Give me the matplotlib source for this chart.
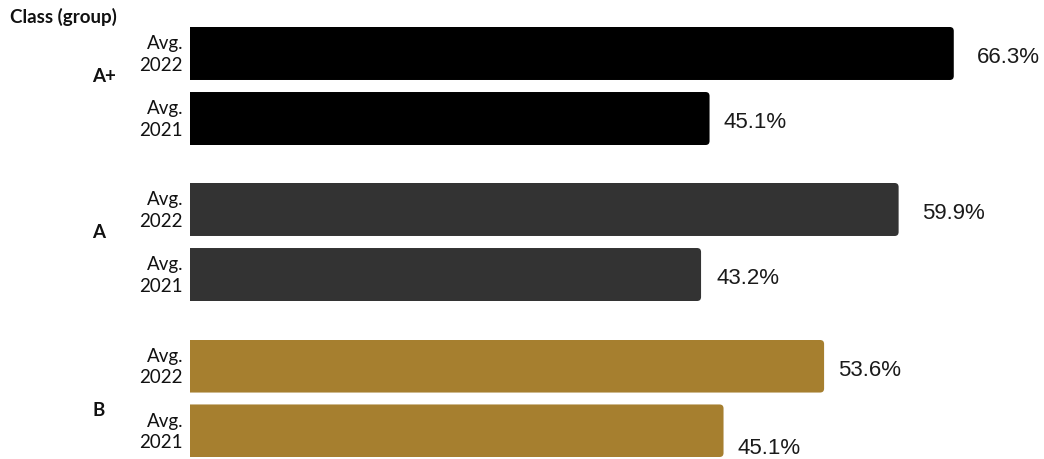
"""Horizontal bar chart: average share by class group, 2022 vs 2021."""

import matplotlib

matplotlib.use("Agg")
import matplotlib.pyplot as plt
from matplotlib.patches import FancyBboxPatch

groups = ["A+", "A", "B"]
years = ["Avg.\n2022", "Avg.\n2021"]
values = {
    "A+": [66.3, 45.1],
    "A": [59.9, 43.2],
    "B": [53.6, 45.1],
}
colors = {"A+": "#000000", "A": "#333333", "B": "#a67f2f"}

W, H, DPI = 1044, 460, 100
LEFT_PX = 190
# (top, bottom) pixel span of each group's pair of bars
GROUP_SPAN = {"A+": (28, 146), "A": (184, 302), "B": (341, 458)}
# horizontal scale (px per percent) of each panel
PX_PER_PCT = {"A+": 11.52, "A": 11.83, "B": 11.83}
GROUP_LABEL_Y = {"A+": 77, "A": 233, "B": 411}
VALUE_GAP = {"A+": [23, 14], "A": [23, 15], "B": [14, 14]}
VALUE_DY = {"A+": [3, 3], "A": [3, 3], "B": [3, 17]}

BAR_H = 0.815
RADIUS_PX = 4

fig = plt.figure(figsize=(W / DPI, H / DPI), dpi=DPI)
fig.patch.set_facecolor("white")

label_font = dict(family=["Lato", "DejaVu Sans"], fontsize=13.5)
value_font = dict(family=["Liberation Sans", "DejaVu Sans"], fontsize=16)

for g in groups:
    top, bottom = GROUP_SPAN[g]
    width_px = W - LEFT_PX
    ax = fig.add_axes([LEFT_PX / W, 1 - bottom / H, width_px / W, (bottom - top) / H])
    ax.set_xlim(0, width_px / PX_PER_PCT[g])
    ax.set_ylim(1 + BAR_H / 2, -BAR_H / 2)
    ax.axis("off")

    y_per_px = (ax.get_ylim()[0] - ax.get_ylim()[1]) / (bottom - top)
    x_per_px = 1 / PX_PER_PCT[g]
    r = RADIUS_PX * x_per_px
    aspect = (RADIUS_PX * y_per_px) / r

    for i, v in enumerate(values[g]):
        # start left of zero so only the right-hand corners show as rounded
        bar = FancyBboxPatch(
            (-3 * r, i - BAR_H / 2),
            v + 3 * r,
            BAR_H,
            boxstyle=f"round,pad=0,rounding_size={r}",
            mutation_aspect=aspect,
            facecolor=colors[g],
            edgecolor="none",
            clip_on=True,
        )
        ax.add_patch(bar)
        ax.annotate(
            f"{v}%",
            xy=(v, i),
            xytext=(VALUE_GAP[g][i] * 0.72, -VALUE_DY[g][i] * 0.72),
            textcoords="offset points",
            va="center",
            ha="left",
            color="#1a1a1a",
            **value_font,
        )
        ax.annotate(
            years[i],
            xy=(0, i),
            xytext=(-7 * 0.72, 0),
            textcoords="offset points",
            va="center",
            ha="right",
            linespacing=1.29,
            color="#111111",
            annotation_clip=False,
            **label_font,
        )

    fig.text(
        92 / W,
        1 - GROUP_LABEL_Y[g] / H,
        g,
        ha="left",
        va="center",
        fontweight="bold",
        color="#111111",
        **label_font,
    )

fig.text(
    10 / W,
    1 - 17 / H,
    "Class (group)",
    ha="left",
    va="center",
    fontweight="bold",
    color="#111111",
    **label_font,
)

fig.savefig("out.png", dpi=DPI)
